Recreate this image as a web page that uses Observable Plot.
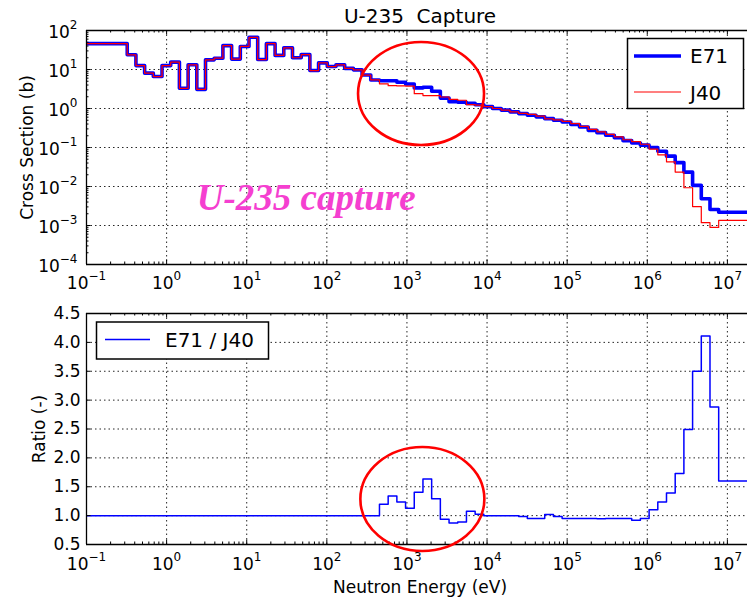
<!DOCTYPE html>
<html><head><meta charset="utf-8">
<script src="https://cdn.jsdelivr.net/npm/d3@7"></script>
<script src="https://cdn.jsdelivr.net/npm/@observablehq/plot@0.6"></script>
<style>
body{margin:0;background:#fff;}
#wrap{position:relative;width:747px;height:601px;overflow:hidden;background:#fff;font-family:"DejaVu Sans",sans-serif;}
#wrap svg{position:absolute;left:0;display:block;overflow:visible;}
</style></head><body><div id="wrap"></div>
<script>
// ---- group structure (lower edges, eV, ascending) ----
const groupLowerEdges = [0.1, 0.32242, 0.41399, 0.53158, 0.68256, 0.87642, 1.1254, 1.4450, 1.8554, 2.3824,
  3.0590, 3.9279, 5.0435, 6.4760, 8.3153, 10.677, 13.710, 17.604, 22.603, 29.023,
  37.267, 47.851, 61.442, 78.893, 101.30, 130.07, 167.02, 214.45, 275.36, 353.57,
  454.00, 582.95, 748.52, 961.12, 1234.1, 1584.6, 2034.7, 2612.6, 3354.6, 4307.4,
  5530.8, 7101.7, 9118.8, 11709, 15034, 19305, 24788, 31828, 40868, 52475,
  67379, 86517, 111090, 142640, 183160, 235180, 301970, 387740, 497870, 639280,
  820850, 1054000, 1353400, 1737700, 2231300, 2865000, 3678800, 4723700, 6065300, 7788000];
const groupUpperEnd = 2e7;

// ---- cross sections (b) ----
const e71 = [46, 23.8, 12.6, 8.05, 6.6, 12.6, 15.5, 3.3, 13.2, 3.1,
  17.7, 19.5, 41, 18.5, 39, 67, 18, 46, 23, 36,
  20, 24, 9.4, 14.8, 11.9, 13.2, 10.7, 9.8, 7.2, 5.4,
  5.15, 5.15, 4.7, 4.23, 3.37, 3.5, 2.78, 1.85, 1.5, 1.45,
  1.35, 1.25, 1.12, 1.00, 0.91, 0.82, 0.74, 0.67, 0.61, 0.55,
  0.50, 0.45, 0.39, 0.335, 0.275, 0.24, 0.207, 0.178, 0.15, 0.13,
  0.115, 0.10, 0.080, 0.060, 0.041, 0.0234, 0.0107, 0.00484, 0.00257, 0.00218];
const j40 = [46, 23.8, 12.6, 8.05, 6.6, 12.6, 15.5, 3.3, 13.2, 3.1,
  17.7, 19.5, 41, 18.5, 39, 67, 18, 46, 23, 36,
  20, 24, 9.4, 14.8, 11.9, 13.2, 10.7, 9.8, 7.2, 5.4,
  4.3, 3.85, 3.8, 3.75, 2.4, 2.15, 2.15, 1.97, 1.72, 1.63,
  1.25, 1.22, 1.12, 1.00, 0.91, 0.82, 0.75, 0.705, 0.64, 0.54,
  0.51, 0.47, 0.41, 0.35, 0.29, 0.253, 0.218, 0.187, 0.158, 0.141,
  0.121, 0.091, 0.065, 0.043, 0.0234, 0.0093, 0.00305, 0.00118, 0.00089, 0.00135];
const ratio = [1, 1, 1, 1, 1, 1, 1, 1, 1, 1,
  1, 1, 1, 1, 1, 1, 1, 1, 1, 1,
  1, 1, 1, 1, 1, 1, 1, 1, 1, 1,
  1.197, 1.34, 1.237, 1.128, 1.405, 1.635, 1.294, 0.938, 0.874, 0.89,
  1.076, 1.024, 1.0, 1.0, 1.0, 1.0, 0.985, 0.95, 0.95, 1.02,
  0.985, 0.95, 0.95, 0.95, 0.95, 0.945, 0.95, 0.95, 0.95, 0.92,
  0.95, 1.10, 1.236, 1.39, 1.73, 2.49, 3.5, 4.11, 2.88, 1.60];

const seriesNames = ["E71", "J40"];
const ratioName = "E71 / J40";
const chartTitle = "U-235\u00a0\u00a0Capture";
const annotationText = "U-235 capture";
const annotationAt = {E: 2.38, v: 0.0025};
const ellipseTop = {E: 1521, v: 2.36};
const ellipseBottom = {E: 1580, v: 1.28};

// ---- ticks ----
const xMajor = [1e-1, 1e0, 1e1, 1e2, 1e3, 1e4, 1e5, 1e6, 1e7];
const xMajorLabels = ["10^-1", "10^0", "10^1", "10^2", "10^3", "10^4", "10^5", "10^6", "10^7"];
const yTopMajor = [1e-4, 1e-3, 1e-2, 1e-1, 1e0, 1e1, 1e2];
const yTopLabels = ["10^-4", "10^-3", "10^-2", "10^-1", "10^0", "10^1", "10^2"];
const yBotMajor = [0.5, 1.0, 1.5, 2.0, 2.5, 3.0, 3.5, 4.0, 4.5];
const yBotLabels = ["0.5", "1.0", "1.5", "2.0", "2.5", "3.0", "3.5", "4.0", "4.5"];

const xMinor = [];
for (let k = -1; k <= 7; k++) for (let m = 2; m <= 9; m++) xMinor.push(m * Math.pow(10, k));
const yMinor = [];
for (let k = -4; k <= 1; k++) for (let m = 2; m <= 9; m++) yMinor.push(m * Math.pow(10, k));

function steps(vals) {
  const d = groupLowerEdges.map((e, i) => ({E: e, v: vals[i]}));
  d.push({E: groupUpperEnd, v: vals[vals.length - 1]});
  return d;
}
const xLabelMap = new Map(xMajor.map((d, i) => [d, xMajorLabels[i]]));
const yTopMap = new Map(yTopMajor.map((d, i) => [d, yTopLabels[i]]));
const yBotMap = new Map(yBotMajor.map((d, i) => [d, yBotLabels[i]]));

const W = 747, L = 86;
const FW = W - L;
const gridStyle = {stroke: "#000", strokeOpacity: 0.85, strokeWidth: 1, strokeDasharray: "1.5,3"};
const chartStyle = {fontFamily: "'DejaVu Sans', sans-serif", fontSize: "17px", background: "transparent", color: "#000", overflow: "visible"};

// ---------- top chart ----------
const H1 = 290, T1 = 30, B1 = 26, FH1 = H1 - T1 - B1;
const topChart = Plot.plot({
  width: W, height: H1, marginTop: T1, marginBottom: B1, marginLeft: L, marginRight: 0,
  style: chartStyle,
  x: {type: "log", domain: [0.1, 2e7], range: [L, 751]},
  y: {type: "log", domain: [1e-4, 1e2]},
  marks: [
    Plot.ruleX(xMajor.slice(1), {x: d => d, ...gridStyle}),
    Plot.ruleY(yTopMajor.slice(1, -1), {y: d => d, ...gridStyle}),
    Plot.line(steps(e71), {x: "E", y: "v", curve: "step-after", stroke: "#0000ff", strokeWidth: 3.6, clip: true}),
    Plot.line(steps(j40), {x: "E", y: "v", curve: "step-after", stroke: "#ff0000", strokeWidth: 1.2, clip: true}),
    Plot.ruleX(xMajor, {x: d => d, insetTop: FH1 - 4.5, strokeWidth: 1}),
    Plot.ruleX(xMajor, {x: d => d, insetBottom: FH1 - 4.5, strokeWidth: 1}),
    Plot.ruleX(xMinor, {x: d => d, insetTop: FH1 - 2.5, strokeWidth: 1, clip: true}),
    Plot.ruleX(xMinor, {x: d => d, insetBottom: FH1 - 2.5, strokeWidth: 1, clip: true}),
    Plot.ruleY(yTopMajor, {y: d => d, insetRight: FW - 4.5, strokeWidth: 1}),
    Plot.ruleY(yMinor, {y: d => d, insetRight: FW - 2.5, strokeWidth: 1}),
    Plot.ruleX([0.1], {x: d => d, strokeWidth: 1.3}),
    Plot.ruleY([1e-4, 1e2], {y: d => d, strokeWidth: 1.3}),
    Plot.axisX(xMajor, {tickSize: 0, tickPadding: 12, tickFormat: d => xLabelMap.get(d), fontSize: 17, label: null}),
    Plot.axisY(yTopMajor, {tickSize: 0, tickPadding: 9, tickFormat: d => yTopMap.get(d), fontSize: 17, dy: 2, label: null}),
    Plot.text(["Cross Section (b)"], {text: d => d, frameAnchor: "left", textAnchor: "middle", lineAnchor: "middle", rotate: -90, dx: -59, fontSize: 17}),
    Plot.text([chartTitle], {text: d => d, frameAnchor: "top", textAnchor: "middle", lineAnchor: "bottom", dy: -8, dx: 3, fontSize: 20}),
    Plot.text([annotationText], {text: d => d, x: () => annotationAt.E, y: () => annotationAt.v, textAnchor: "start", lineAnchor: "bottom",
      fontFamily: "'Liberation Serif', serif", fontStyle: "italic", fontWeight: "bold", fontSize: 37, fill: "#f53fd0"})
  ]
});

// ---------- bottom chart ----------
const H2 = 311, T2 = 23, B2 = 57, FH2 = H2 - T2 - B2;
const botChart = Plot.plot({
  width: W, height: H2, marginTop: T2, marginBottom: B2, marginLeft: L, marginRight: 0,
  style: chartStyle,
  x: {type: "log", domain: [0.1, 2e7], range: [L, 751]},
  y: {domain: [0.5, 4.5]},
  marks: [
    Plot.ruleX(xMajor.slice(1), {x: d => d, ...gridStyle}),
    Plot.ruleY(yBotMajor.slice(1, -1), {y: d => d, ...gridStyle}),
    Plot.line(steps(ratio), {x: "E", y: "v", curve: "step-after", stroke: "#0000ff", strokeWidth: 1.5, clip: true}),
    Plot.ruleX(xMajor, {x: d => d, insetTop: FH2 - 4.5, strokeWidth: 1}),
    Plot.ruleX(xMajor, {x: d => d, insetBottom: FH2 - 4.5, strokeWidth: 1}),
    Plot.ruleX(xMinor, {x: d => d, insetTop: FH2 - 2.5, strokeWidth: 1, clip: true}),
    Plot.ruleX(xMinor, {x: d => d, insetBottom: FH2 - 2.5, strokeWidth: 1, clip: true}),
    Plot.ruleY(yBotMajor, {y: d => d, insetRight: FW - 4.5, strokeWidth: 1}),
    Plot.ruleX([0.1], {x: d => d, strokeWidth: 1.3}),
    Plot.ruleY([0.5, 4.5], {y: d => d, strokeWidth: 1.3}),
    Plot.axisX(xMajor, {tickSize: 0, tickPadding: 13, tickFormat: d => xLabelMap.get(d), fontSize: 17, label: null}),
    Plot.axisY(yBotMajor, {tickSize: 0, tickPadding: 6, tickFormat: d => yBotMap.get(d), fontSize: 17, label: null}),
    Plot.text(["Ratio (-)"], {text: d => d, frameAnchor: "left", textAnchor: "middle", lineAnchor: "middle", rotate: -90, dx: -47, fontSize: 17}),
    Plot.text(["Neutron Energy (eV)"], {text: d => d, frameAnchor: "bottom", textAnchor: "middle", lineAnchor: "bottom", dy: 48, dx: 3, fontSize: 17})
  ]
});

const NS = "http://www.w3.org/2000/svg";
function el(parent, tag, attrs, txt) {
  const e = document.createElementNS(NS, tag);
  for (const k in attrs) e.setAttribute(k, attrs[k]);
  if (txt != null) e.textContent = txt;
  parent.appendChild(e);
  return e;
}
function superscripts(svg) {
  svg.querySelectorAll("text").forEach(t => {
    const m = /^10\^(-?\d+)$/.exec(t.textContent);
    if (!m) return;
    t.textContent = "10";
    el(t, "tspan", {dy: "-8.5", "font-size": "12"}, m[1].replace("-", "\u2212"));
  });
}
superscripts(topChart);
superscripts(botChart);

// annotation ellipses, centred through the charts' scales
{
  const g = el(topChart, "g", {});
  el(g, "ellipse", {cx: topChart.scale("x").apply(ellipseTop.E), cy: topChart.scale("y").apply(ellipseTop.v), rx: 63, ry: 51.5,
    fill: "none", stroke: "#ff0000", "stroke-width": 2.6});
  const g2 = el(botChart, "g", {});
  el(g2, "ellipse", {cx: botChart.scale("x").apply(ellipseBottom.E), cy: botChart.scale("y").apply(ellipseBottom.v), rx: 62, ry: 52,
    fill: "none", stroke: "#ff0000", "stroke-width": 2.6});
}

// legends
{
  const g = el(topChart, "g", {"font-family": "'DejaVu Sans', sans-serif", "font-size": 20, "text-anchor": "start"});
  el(g, "rect", {x: 627.5, y: 38.5, width: 116, height: 70, fill: "#fff", stroke: "#000", "stroke-width": 1.5});
  el(g, "line", {x1: 634, x2: 681, y1: 56, y2: 56, stroke: "#0000ff", "stroke-width": 3.6});
  el(g, "line", {x1: 634, x2: 681, y1: 92, y2: 92, stroke: "#ff0000", "stroke-width": 1.2});
  el(g, "text", {x: 690, y: 63}, seriesNames[0]);
  el(g, "text", {x: 690, y: 99.5}, seriesNames[1]);
  const g2 = el(botChart, "g", {"font-family": "'DejaVu Sans', sans-serif", "font-size": 20, "text-anchor": "start"});
  el(g2, "rect", {x: 96.5, y: 32, width: 172, height: 37, fill: "#fff", stroke: "#000", "stroke-width": 1.5});
  el(g2, "line", {x1: 105, x2: 150, y1: 49.5, y2: 49.5, stroke: "#0000ff", "stroke-width": 1.5});
  el(g2, "text", {x: 165, y: 56.5}, ratioName);
}

const wrap = document.getElementById("wrap");
topChart.style.top = "0px";
botChart.style.top = H1 + "px";
wrap.appendChild(topChart);
wrap.appendChild(botChart);
</script>
</body></html>
